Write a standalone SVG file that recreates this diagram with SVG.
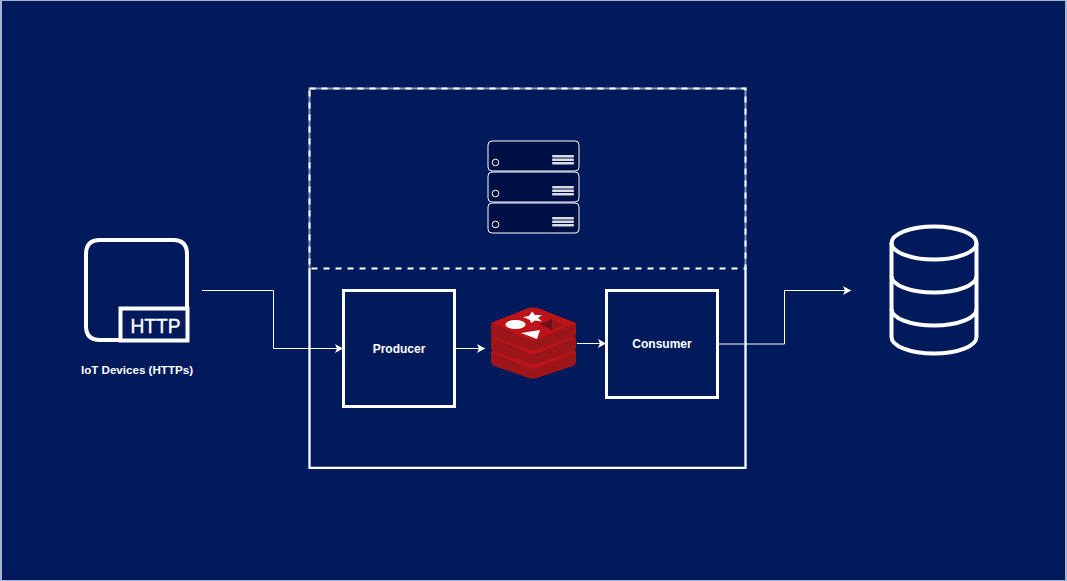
<svg xmlns="http://www.w3.org/2000/svg" width="1067" height="581" viewBox="0 0 1067 581">
<style>
.w{fill:none;stroke:#fff}
.c{fill:none;stroke:#fff;stroke-width:1;marker-end:url(#a)}
.t{font-family:"Liberation Sans",Arial,sans-serif;font-weight:700;font-size:12px;fill:#fff;text-anchor:middle}
.s{fill:#000f45;stroke:#fff;stroke-width:1}
.b{fill:#fff;opacity:.85}
.d1{fill:#9c1519}.d2{fill:#bd1419}
</style>
<defs>
<marker id="a" markerWidth="10" markerHeight="10" refX="8" refY="5" orient="auto" markerUnits="userSpaceOnUse"><path d="M0 .5 8 5 0 9.500 2 5Z" fill="#fff"/></marker>
<g id="srv"><rect class="s" x="488" y="141" width="91" height="30" rx="4"/><circle cx="495.500" cy="162.500" r="3.300" fill="none" stroke="#fff"/><rect class="b" x="552" y="155" width="22" height="2.400" rx="1" opacity=".6"/><rect class="b" x="552" y="158.500" width="22" height="2.400" rx="1"/><rect class="b" x="552" y="162" width="22" height="2.400" rx="1"/></g>
<g id="lay">
<path class="d1" d="M491 323V334Q491 336 494 337.500L529 349.500Q533 351 537 349.500L573 337.500Q576 336 576 334V323Z"/>
<path class="d2" d="M491 323 527 308.500Q533 306.500 539 308.500L576 323 537 339.500Q533 341 529 339.500Z"/>
</g>
</defs>
<rect width="1067" height="581" fill="#a9b4d0"/>
<rect x="2" y="1" width="1063" height="579" fill="#001a5c"/>
<g id="container">
<rect x="309.500" y="88.500" width="436" height="379" class="w" stroke-width="2" stroke-opacity=".55"/>
<path d="M309.500 268V468H745.500V268" class="w" stroke-width="2"/>
<rect x="309.500" y="88.500" width="436" height="180" class="w" stroke-width="2" stroke-dasharray="6 6"/>
</g>
<g id="connectors">
<path class="c" d="M202 290.500H273.500V348.500H343"/>
<path class="c" d="M456 348.500H485"/>
<path class="c" d="M577 343.500H606"/>
<path class="c" d="M718 344H784.500V290.500H851"/>
</g>
<g id="servers">
<use href="#srv"/><use href="#srv" y="31"/><use href="#srv" y="62"/>
</g>
<g id="iot-devices">
<path class="w" stroke-width="4" d="M187 307V254Q187 240 173 240H100Q86 240 86 254V326Q86 340 100 340H120"/>
<rect class="w" x="120.500" y="308.500" width="67" height="32" stroke-width="4"/>
<text x="155.500" y="333" font-family="'Liberation Sans',Arial,sans-serif" font-size="21" fill="#fff" stroke="#fff" stroke-width=".4" text-anchor="middle" textLength="50" lengthAdjust="spacingAndGlyphs">HTTP</text>
<text class="t" x="137" y="374" style="font-size:11.600px">IoT Devices (HTTPs)</text>
</g>
<g id="producer">
<rect class="w" x="343.500" y="290.500" width="111" height="116" stroke-width="3"/>
<text class="t" x="399" y="352.500">Producer</text>
</g>
<g id="redis">
<use href="#lay" y="28.500"/>
<use href="#lay" y="14"/>
<use href="#lay"/>
<path fill="#fff" d="M532 311.500 535 315 542 315 538 318 542 321.500 535 320.500 531 323 530 320 523 317 529 316z"/>
<ellipse cx="515.500" cy="324.500" rx="10" ry="4.500" fill="#fff"/>
<path fill="#fff" d="M521 333 540 330 537 339z"/>
<path fill="#9c1519" d="M540 324 552 319 564 324.500 552 330z"/>
<path fill="#6e1013" d="M540 324 552 319 552 330z"/>
</g>
<g id="consumer">
<rect class="w" x="606.500" y="290.500" width="111" height="107" stroke-width="3"/>
<text class="t" x="662" y="347.500">Consumer</text>
</g>
<g id="database" class="w" stroke-width="4">
<ellipse cx="934" cy="243" rx="42.500" ry="16.500"/>
<path d="M891.500 243V337C891.500 346 910 353.500 934 353.500S976.500 346 976.500 337V243"/>
<path d="M891.500 276C891.500 285 910 292.500 934 292.500S976.500 285 976.500 276"/>
<path d="M891.500 309C891.500 318 910 325.500 934 325.500S976.500 318 976.500 309"/>
</g>
</svg>
